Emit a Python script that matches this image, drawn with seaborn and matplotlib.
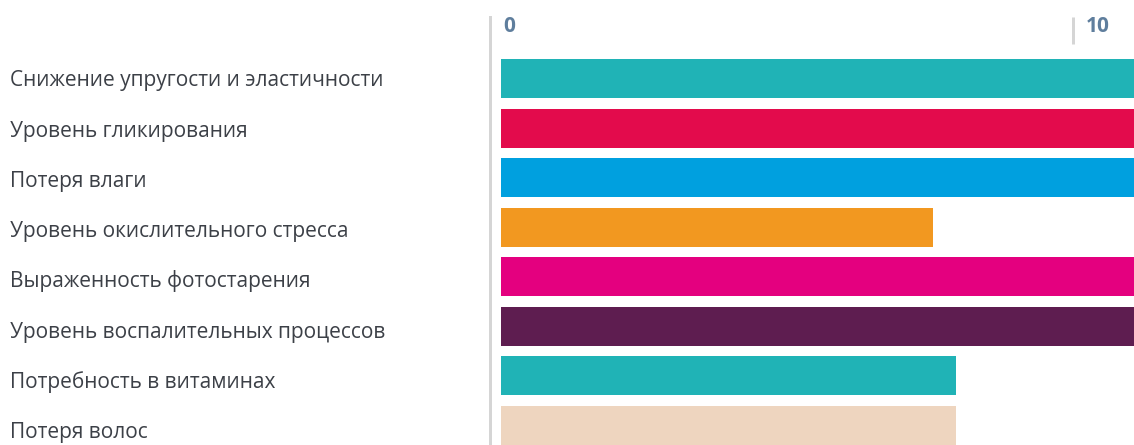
import matplotlib
matplotlib.use("Agg")
import matplotlib.pyplot as plt
import matplotlib.transforms as mtransforms
import seaborn as sns
import pandas as pd

categories = [
    "Снижение упругости и эластичности",
    "Уровень гликирования",
    "Потеря влаги",
    "Уровень окислительного стресса",
    "Выраженность фотостарения",
    "Уровень воспалительных процессов",
    "Потребность в витаминах",
    "Потеря волос",
]
values = [12, 12, 12, 7.55, 12, 12, 7.95, 7.95]
colors = ["#20b3b6", "#e30b4c", "#00a0df", "#f29820", "#e4007f",
          "#5e1d50", "#20b3b6", "#eed5bf"]
tick_values = [0, 10]
tick_labels = ["0", "10"]

sns.set_theme(style="white")
plt.rcParams["font.family"] = ["Open Sans", "DejaVu Sans"]

W, H, DPI = 1134, 445, 100
PX = 72 / DPI  # points per pixel
fig = plt.figure(figsize=(W / DPI, H / DPI), dpi=DPI)
ax = fig.add_axes([501 / W, 0, (W - 501) / W, (H - 17) / H])

df = pd.DataFrame({"cat": categories, "val": values})
sns.barplot(data=df, y="cat", x="val", hue="cat", palette=colors,
            orient="h", width=0.787, legend=False, ax=ax, saturation=1,
            linewidth=0)

pitch = (425.5 - 78.5) / 7
ax.set_xlim(0, (W - 501) / 57.2)
ax.set_ylim(7 + 19.5 / pitch, -(78.5 - 17) / pitch)

for s in ["top", "right", "bottom"]:
    ax.spines[s].set_visible(False)
ax.spines["left"].set_position(("outward", 11 * PX))
ax.spines["left"].set_color("#d5d5d5")
ax.spines["left"].set_linewidth(3 * PX)

ax.set_xlabel("")
ax.set_ylabel("")
ax.set_yticks([])
ax.set_xticks(tick_values)
ax.tick_params(axis="x", which="both", bottom=False, labelbottom=False,
               top=True, labeltop=False, direction="in", length=27 * PX,
               width=3 * PX, color="#d5d5d5")
ax.xaxis.get_major_ticks()[0].tick2line.set_visible(False)

# top tick labels
offsets = [2, 13]
for v, lab, dx in zip(tick_values, tick_labels, offsets):
    tr = mtransforms.blended_transform_factory(ax.transData, ax.transAxes)
    tr = tr + mtransforms.ScaledTranslation(dx / DPI, -15 / DPI, fig.dpi_scale_trans)
    ax.text(v, 1, lab, transform=tr, ha="left", va="baseline",
            fontsize=15, fontweight="bold", color="#5f7e9d", clip_on=False)

# category labels (row pitch of the text column)
label_top, label_pitch = 78.3, 50.3
for i, lab in enumerate(categories):
    ybase = label_top + i * label_pitch + 8.0
    fig.text(10 / W, 1 - ybase / H, lab, ha="left", va="baseline",
             fontsize=15, color="#3c4047")

fig.savefig("out.png", dpi=DPI)
